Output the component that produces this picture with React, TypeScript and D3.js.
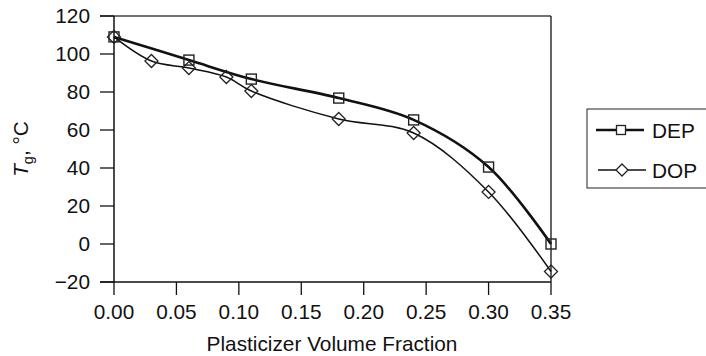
import React from "react";
import * as d3 from "d3";

const depX = [0, 0.06, 0.11, 0.18, 0.24, 0.3, 0.35];
const depY = [109, 96.8, 86.8, 76.8, 65.3, 40.5, 0];
const dopX = [0, 0.03, 0.06, 0.09, 0.11, 0.18, 0.24, 0.3, 0.35];
const dopY = [109, 96.3, 92.6, 87.9, 80.5, 65.8, 58.4, 27.4, -14.5];
const xTicks = [0, 0.05, 0.1, 0.15, 0.2, 0.25, 0.3, 0.35];
const xTickLabels = ["0.00", "0.05", "0.10", "0.15", "0.20", "0.25", "0.30", "0.35"];
const yTicks = [-20, 0, 20, 40, 60, 80, 100, 120];
const yTickLabels = ["\u221220", "0", "20", "40", "60", "80", "100", "120"];
const seriesNames = ["DEP", "DOP"];

const FONT = "'Liberation Sans', Arial, Helvetica, sans-serif";
const FS = 20.8;

export default function App() {
  const x = d3.scaleLinear().domain([0, 0.35]).range([114, 551]);
  const y = d3.scaleLinear().domain([-20, 120]).range([282, 16]);
  const line = d3
    .line<[number, number]>()
    .x((d) => x(d[0]))
    .y((d) => y(d[1]))
    .curve(d3.curveCatmullRom.alpha(0.5));
  const dep: [number, number][] = depX.map((v, i) => [v, depY[i]]);
  const dop: [number, number][] = dopX.map((v, i) => [v, dopY[i]]);
  const sq = 10;
  const dm = 6.5;
  const diamond = (cx: number, cy: number, r: number) =>
    `M${cx},${cy - r}L${cx + r},${cy}L${cx},${cy + r}L${cx - r},${cy}Z`;

  const x0 = x(0), x1 = x(0.35), yTop = y(120), yBot = y(-20);

  return (
    <svg
      width={706}
      height={356}
      style={{ position: "absolute", left: 0, top: 0, background: "#fff" }}
      fontFamily={FONT}
    >
      {/* frame */}
      <line x1={100} x2={x1} y1={yTop} y2={yTop} stroke="#444" strokeWidth={1.6} />
      <line x1={x1} x2={x1} y1={yTop} y2={yBot} stroke="#111" strokeWidth={1.3} />
      <line x1={x0} x2={x0} y1={yTop} y2={yBot} stroke="#111" strokeWidth={1.5} />
      <line x1={100} x2={x1} y1={yBot} y2={yBot} stroke="#111" strokeWidth={1.3} />
      {yTicks.map((t, i) => (
        <g key={"y" + i}>
          <line x1={100} x2={x0} y1={y(t)} y2={y(t)} stroke="#111" strokeWidth={1.3} />
          <text x={90} y={y(t)} dy="0.36em" textAnchor="end" fontSize={FS} fill="#111">
            {yTickLabels[i]}
          </text>
        </g>
      ))}
      {xTicks.map((t, i) => (
        <g key={"x" + i}>
          <line x1={x(t)} x2={x(t)} y1={yBot} y2={yBot + 13} stroke="#111" strokeWidth={1.3} />
          <text x={x(t)} y={319} textAnchor="middle" fontSize={FS} fill="#111">
            {xTickLabels[i]}
          </text>
        </g>
      ))}
      <text x={332} y={351} textAnchor="middle" fontSize={FS} fill="#111">
        Plasticizer Volume Fraction
      </text>
      <text transform="translate(28,149) rotate(-90)" textAnchor="middle" fontSize={FS} fill="#111">
        <tspan fontStyle="italic">T</tspan>
        <tspan fontSize={14.5} dy={5}>g</tspan>
        <tspan dy={-5}>, °C</tspan>
      </text>

      {/* series */}
      <path d={line(dep) || ""} fill="none" stroke="#111" strokeWidth={2.6} />
      <path d={line(dop) || ""} fill="none" stroke="#111" strokeWidth={1.5} />
      {dep.map((d, i) => (
        <rect
          key={"s" + i}
          x={x(d[0]) - sq / 2}
          y={y(d[1]) - sq / 2}
          width={sq}
          height={sq}
          fill="none"
          stroke="#222"
          strokeWidth={1.4}
        />
      ))}
      {dop.map((d, i) => (
        <path key={"d" + i} d={diamond(x(d[0]), y(d[1]), dm)} fill="none" stroke="#222" strokeWidth={1.3} />
      ))}

      {/* legend */}
      <rect x={587} y={109} width={130} height={79} fill="#fff" stroke="#222" strokeWidth={1} />
      <line x1={596} x2={644} y1={130} y2={130} stroke="#111" strokeWidth={2.6} />
      <rect x={616.5} y={125.5} width={9} height={9} fill="#fff" stroke="#222" strokeWidth={1.3} />
      <text x={652} y={137.5} fontSize={FS} fill="#111">{seriesNames[0]}</text>
      <line x1={598} x2={646} y1={170} y2={170} stroke="#111" strokeWidth={1.5} />
      <path d={diamond(622, 170, 6)} fill="#fff" stroke="#222" strokeWidth={1.3} />
      <text x={652} y={177.5} fontSize={FS} fill="#111">{seriesNames[1]}</text>
    </svg>
  );
}
